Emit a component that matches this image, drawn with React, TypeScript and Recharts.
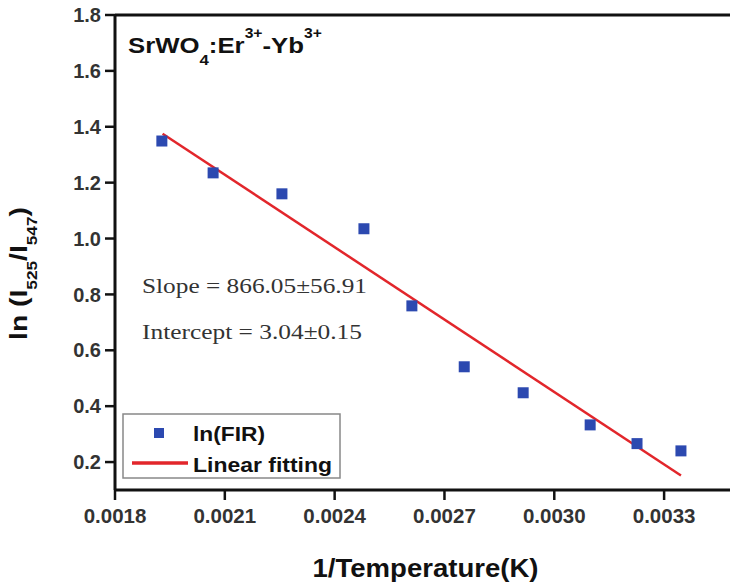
import { ScatterChart, Scatter, XAxis, YAxis, ReferenceLine } from 'recharts'

// ln(FIR) vs 1/T
const invTemp = [0.001928, 0.002068, 0.002256, 0.00248, 0.002611, 0.002754, 0.002915, 0.003098, 0.003226, 0.003346]
const lnFir = [1.349, 1.235, 1.16, 1.035, 0.759, 0.541, 0.448, 0.333, 0.266, 0.24]

// end points of the fitted line
const fitX = [0.00193, 0.003346]
const fitY = [1.375, 0.152]

const xTicks = [0.0018, 0.0021, 0.0024, 0.0027, 0.003, 0.0033]
const yTicks = [0.2, 0.4, 0.6, 0.8, 1.0, 1.2, 1.4, 1.6, 1.8]

const points = invTemp.map((x, i) => ({ x, y: lnFir[i] }))
const fit = fitX.map((x, i) => ({ x, y: fitY[i] }))

const SANS = '"Liberation Sans", Arial, sans-serif'
const SERIF = '"Liberation Serif", "Times New Roman", serif'
const BLUE = '#2c49b0'
const RED = '#e2262b'
const INK = '#111'

function Square(props: { cx?: number; cy?: number }) {
  const { cx = 0, cy = 0 } = props
  return <rect x={cx - 5.5} y={cy - 5.5} width={11} height={11} fill={BLUE} />
}

function NoDot() {
  return <g />
}

type VB = { x: number; y: number; width: number; height: number }

// the source figure is stretched a bit sideways, hence the scale() on some labels
function YLabel(props: { viewBox?: VB }) {
  const vb = props.viewBox ?? { x: 0, y: 15, width: 115, height: 475 }
  const x = 27
  const y = vb.y + vb.height / 2 + 21
  return (
    <g transform={`translate(${x}, ${y}) rotate(-90) scale(1.23, 1)`}>
      <text x={0} y={0} textAnchor="middle" fontFamily={SANS} fontWeight="bold" fontSize={23} fill={INK}>
        <tspan>ln (I</tspan>
        <tspan fontSize={14} dy={10}>525</tspan>
        <tspan dy={-10}>/I</tspan>
        <tspan fontSize={14} dy={10}>547</tspan>
        <tspan dy={-10}>)</tspan>
      </text>
    </g>
  )
}

function XLabel(props: { viewBox?: VB }) {
  const vb = props.viewBox ?? { x: 115, y: 490, width: 615, height: 95 }
  return (
    <text
      x={vb.x + vb.width / 2 + 3}
      y={577}
      textAnchor="middle"
      textLength={226}
      lengthAdjust="spacingAndGlyphs"
      fontFamily={SANS}
      fontWeight="bold"
      fontSize={25}
      fill={INK}
    >
      1/Temperature(K)
    </text>
  )
}

export default function App() {
  return (
    <div style={{ position: 'absolute', left: 0, top: 0, width: 730, height: 585, background: '#fff' }}>
      <ScatterChart width={730} height={585} margin={{ top: 15, right: 0, bottom: 0, left: 0 }}>
        <XAxis
          type="number"
          dataKey="x"
          domain={[0.0018, 0.00348]}
          ticks={xTicks}
          allowDataOverflow
          height={95}
          tickFormatter={(v: number) => v.toFixed(4)}
          axisLine={{ stroke: INK, strokeWidth: 3 }}
          tickLine={{ stroke: INK, strokeWidth: 2.5 }}
          tickSize={10}
          tickMargin={8}
          tick={{ fill: '#333', fontSize: 20.5, fontWeight: 'bold', fontFamily: SANS }}
          label={<XLabel />}
        />
        <YAxis
          type="number"
          dataKey="y"
          domain={[0.1, 1.8]}
          ticks={yTicks}
          allowDataOverflow
          width={115}
          tickFormatter={(v: number) => v.toFixed(1)}
          axisLine={{ stroke: INK, strokeWidth: 3 }}
          tickLine={{ stroke: INK, strokeWidth: 2.5 }}
          tickSize={10}
          tickMargin={4}
          tick={{ fill: '#333', fontSize: 20, fontWeight: 'bold', fontFamily: SANS }}
          label={<YLabel />}
        />
        <ReferenceLine y={1.8} stroke={INK} strokeWidth={3} />
        <Scatter
          data={fit}
          line={{ stroke: RED, strokeWidth: 2.5 }}
          shape={<NoDot />}
          isAnimationActive={false}
        />
        <Scatter data={points} shape={<Square />} isAnimationActive={false} />
      </ScatterChart>

      <svg width={730} height={585} style={{ position: 'absolute', left: 0, top: 0, pointerEvents: 'none' }}>
        <g transform="translate(128, 53) scale(1.12, 1)">
          <text x={0} y={0} fontFamily={SANS} fontWeight="bold" fontSize={23} fill={INK}>
            <tspan>SrWO</tspan>
            <tspan fontSize={15} dy={12}>4</tspan>
            <tspan dy={-12}>:Er</tspan>
            <tspan fontSize={14} dy={-15}>3+</tspan>
            <tspan dy={15}>-Yb</tspan>
            <tspan fontSize={14} dy={-15}>3+</tspan>
          </text>
        </g>

        <text x={142} y={293} textLength={225} lengthAdjust="spacingAndGlyphs" fontFamily={SERIF} fontSize={22} fill="#333">
          Slope = 866.05±56.91
        </text>
        <text x={142} y={339} textLength={220} lengthAdjust="spacingAndGlyphs" fontFamily={SERIF} fontSize={22} fill="#333">
          Intercept = 3.04±0.15
        </text>

        <rect x={123} y={414} width={217} height={64} fill="#fff" stroke="#888" strokeWidth={1.5} />
        <rect x={154} y={428} width={10} height={10} fill={BLUE} />
        <text x={193} y={441} textLength={72} lengthAdjust="spacingAndGlyphs" fontFamily={SANS} fontWeight="bold" fontSize={21} fill={INK}>
          ln(FIR)
        </text>
        <line x1={132} y1={463} x2={188} y2={463} stroke={RED} strokeWidth={3.5} />
        <text x={193} y={472} textLength={139} lengthAdjust="spacingAndGlyphs" fontFamily={SANS} fontWeight="bold" fontSize={21} fill={INK}>
          Linear fitting
        </text>
      </svg>
    </div>
  )
}
